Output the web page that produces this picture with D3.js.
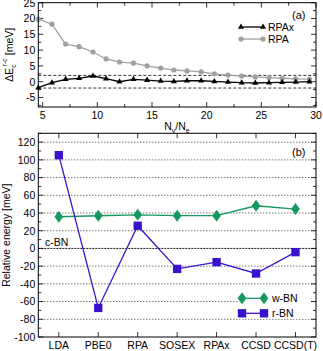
<!DOCTYPE html>
<html><head><meta charset="utf-8">
<script src="https://cdn.jsdelivr.net/npm/d3@7"></script>
<style>
body{margin:0;background:#fff;}
svg{display:block;font-family:"Liberation Sans",Arial,sans-serif;}
</style></head>
<body><svg id="c" width="323" height="351"></svg>
<script>
// Panel (a)
const ratioX = [4.6,5.85,7.1,8.33,9.6,10.8,12.03,13.3,14.55,15.8,17.0,18.2,19.5,20.7,21.95,23.2,24.45,25.7,26.9,28.15,29.4];
const rpaVals = [19.8,18.2,11.9,11.1,9.4,7.2,6.2,5.9,5.0,4.3,3.7,3.4,3.1,2.5,2.1,1.8,1.5,1.3,1.1,0.9,0.8];
const rpaxVals = [-1.9,-0.3,0.75,1.07,1.8,0.95,0.0,0.75,0.5,0.2,0.1,0.3,0.3,0.1,-0.1,-0.3,-0.4,-0.3,-0.2,-0.1,0.0];
const aXTicks = [5,10,15,20,25,30];
const aYTicks = [-5,0,5,10,15,20,25];
const dashLevels = [2,-2];
// Panel (b)
const methods = ["LDA","PBE0","RPA","SOSEX","RPAx","CCSD","CCSD(T)"];
const wBN = [35.8,36.9,38.0,37.0,37.0,48.2,44.5];
const rBN = [105.3,-67.2,25.6,-23.1,-15.5,-28.3,-4.2];
const bYTicks = [-100,-80,-60,-40,-20,0,20,40,60,80,100,120];

const svg = d3.select("#c");
const L = 38.3, R = 316;
const FS = 10.5;
const grey = "#a0a0a0", green = "#13995f", blue = "#3a12cc";

// ---------- Panel (a)
const aT = 2.7, aB = 107;
const xa = d3.scaleLinear().domain([4.6,30]).range([L,R]);
const ya = d3.scaleLinear().domain([-8,25]).range([aB,aT]);
const ga = svg.append("g");
// dashed lines
dashLevels.forEach(v=>{
  ga.append("line").attr("x1",L).attr("x2",R).attr("y1",ya(v)).attr("y2",ya(v))
    .attr("stroke","#000").attr("stroke-width",0.8).attr("stroke-dasharray","3,2");
});
// minor ticks
const aXMinor = d3.range(7.5,30,5);
const aYMinor = d3.range(-7.5,25,2.5).filter(v=>v%5!==0);
function ticksA(){
  const g = ga.append("g").attr("stroke","#000").attr("stroke-width",0.8);
  aXTicks.forEach(v=>{ g.append("line").attr("x1",xa(v)).attr("x2",xa(v)).attr("y1",aB).attr("y2",aB-5);
    g.append("line").attr("x1",xa(v)).attr("x2",xa(v)).attr("y1",aT).attr("y2",aT+5);});
  aXMinor.forEach(v=>{ g.append("line").attr("x1",xa(v)).attr("x2",xa(v)).attr("y1",aB).attr("y2",aB-3);
    g.append("line").attr("x1",xa(v)).attr("x2",xa(v)).attr("y1",aT).attr("y2",aT+3);});
  aYTicks.forEach(v=>{ g.append("line").attr("x1",L).attr("x2",L+5).attr("y1",ya(v)).attr("y2",ya(v));
    g.append("line").attr("x1",R).attr("x2",R-5).attr("y1",ya(v)).attr("y2",ya(v));});
  aYMinor.forEach(v=>{ g.append("line").attr("x1",L).attr("x2",L+3).attr("y1",ya(v)).attr("y2",ya(v));
    g.append("line").attr("x1",R).attr("x2",R-3).attr("y1",ya(v)).attr("y2",ya(v));});
}
ticksA();
const lineA = d3.line().x((d,i)=>xa(ratioX[i])).y(d=>ya(d));
ga.append("path").datum(rpaVals).attr("d",lineA).attr("fill","none").attr("stroke",grey).attr("stroke-width",1.3);
ga.selectAll(".rpa").data(rpaVals).join("circle").attr("cx",(d,i)=>xa(ratioX[i])).attr("cy",d=>ya(d)).attr("r",2.6).attr("fill",grey);
ga.append("path").datum(rpaxVals).attr("d",lineA).attr("fill","none").attr("stroke","#000").attr("stroke-width",1.3);
const tri = d3.symbol().type(d3.symbolTriangle).size(16);
ga.selectAll(".rpax").data(rpaxVals).join("path").attr("d",tri).attr("transform",(d,i)=>`translate(${xa(ratioX[i])},${ya(d)})`).attr("fill","#000");
ga.append("rect").attr("x",L).attr("y",aT).attr("width",R-L).attr("height",aB-aT).attr("fill","none").attr("stroke","#000").attr("stroke-width",1);
// tick labels
ga.selectAll(".xl").data(aXTicks).join("text").attr("x",d=>xa(d)).attr("y",aB+12).attr("text-anchor","middle").attr("font-size",FS).text(d=>d);
ga.selectAll(".yl").data(aYTicks).join("text").attr("x",L-3).attr("y",d=>ya(d)+3.8).attr("text-anchor","end").attr("font-size",FS).text(d=>d);
// legend
ga.append("line").attr("x1",241).attr("x2",263).attr("y1",27).attr("y2",27).attr("stroke","#000").attr("stroke-width",1.3);
[241,263].forEach(x=>ga.append("path").attr("d",tri).attr("transform",`translate(${x},27)`).attr("fill","#000"));
ga.append("text").attr("x",268).attr("y",31).attr("font-size",FS).text("RPAx");
ga.append("line").attr("x1",241).attr("x2",263).attr("y1",39).attr("y2",39).attr("stroke",grey).attr("stroke-width",1.3);
[241,263].forEach(x=>ga.append("circle").attr("cx",x).attr("cy",39).attr("r",2.6).attr("fill",grey));
ga.append("text").attr("x",268).attr("y",43).attr("font-size",FS).text("RPA");
ga.append("text").attr("x",292).attr("y",19).attr("font-size",FS+0.5).text("(a)");
// axis titles
const ytA = ga.append("text").attr("transform",`translate(13,${(aT+aB)/2}) rotate(-90)`).attr("text-anchor","middle").attr("font-size",FS);
ytA.append("tspan").text("ΔE");
ytA.append("tspan").attr("dy",3).attr("font-size",7).text("c");
ytA.append("tspan").attr("dy",-9).attr("dx",-2).attr("font-size",7).text("r-c");
ytA.append("tspan").attr("dy",6).text(" [meV]");
const xtA = ga.append("text").attr("x",177).attr("y",aB+23).attr("text-anchor","middle").attr("font-size",FS);
xtA.append("tspan").text("N");
xtA.append("tspan").attr("dy",3).attr("font-size",7).text("v");
xtA.append("tspan").attr("dy",-3).text("/N");
xtA.append("tspan").attr("dy",3).attr("font-size",7).text("e");

// ---------- Panel (b)
const bT = 133.3, bB = 337;
const xb = d3.scaleLinear().domain([-0.52,6.52]).range([L,R]);
const yb = d3.scaleLinear().domain([-100,130]).range([bB,bT]);
const gb = svg.append("g");
bYTicks.filter(v=>v>-100).forEach(v=>{
  gb.append("line").attr("x1",L).attr("x2",R).attr("y1",yb(v)).attr("y2",yb(v))
    .attr("stroke","#000").attr("stroke-width",v===0?0.9:0.8).attr("stroke-dasharray",v===0?"2,1":"1,2");
});
{
  const g = gb.append("g").attr("stroke","#000").attr("stroke-width",0.8);
  methods.forEach((m,i)=>{ g.append("line").attr("x1",xb(i)).attr("x2",xb(i)).attr("y1",bB).attr("y2",bB-5);
    g.append("line").attr("x1",xb(i)).attr("x2",xb(i)).attr("y1",bT).attr("y2",bT+5);});
  d3.range(-100,131,10).forEach(v=>{ const len = v%20===0?5:3;
    g.append("line").attr("x1",L).attr("x2",L+len).attr("y1",yb(v)).attr("y2",yb(v));
    g.append("line").attr("x1",R).attr("x2",R-len).attr("y1",yb(v)).attr("y2",yb(v));});
}
const lineB = d3.line().x((d,i)=>xb(i)).y(d=>yb(d));
gb.append("path").datum(wBN).attr("d",lineB).attr("fill","none").attr("stroke",green).attr("stroke-width",1.3);
gb.append("path").datum(rBN).attr("d",lineB).attr("fill","none").attr("stroke",blue).attr("stroke-width",1.3);
const diamond = d3.symbol().type(d3.symbolDiamond).size(42);
const square = d3.symbol().type(d3.symbolSquare).size(70);
gb.selectAll(".w").data(wBN).join("path").attr("d",diamond).attr("transform",(d,i)=>`translate(${xb(i)},${yb(d)}) scale(1.25,1)`).attr("fill",green);
gb.selectAll(".r").data(rBN).join("path").attr("d",square).attr("transform",(d,i)=>`translate(${xb(i)},${yb(d)})`).attr("fill",blue);
gb.append("rect").attr("x",L).attr("y",bT).attr("width",R-L).attr("height",bB-bT).attr("fill","none").attr("stroke","#000").attr("stroke-width",1);
gb.selectAll(".xl").data(methods).join("text").attr("x",(d,i)=>xb(i)).attr("y",bB+12).attr("text-anchor","middle").attr("font-size",FS).text(d=>d);
gb.selectAll(".yl").data(bYTicks).join("text").attr("x",L-3).attr("y",d=>yb(d)+3.8).attr("text-anchor","end").attr("font-size",FS).text(d=>d);
// legend
gb.append("rect").attr("x",238).attr("y",293).attr("width",72).attr("height",26).attr("fill","#fff");
gb.append("line").attr("x1",242).attr("x2",264).attr("y1",298.3).attr("y2",298.3).attr("stroke",green).attr("stroke-width",1.3);
[242,264].forEach(x=>gb.append("path").attr("d",diamond).attr("transform",`translate(${x},298.3) scale(1.25,1)`).attr("fill",green));
gb.append("text").attr("x",272).attr("y",302).attr("font-size",FS).text("w-BN");
gb.append("line").attr("x1",242).attr("x2",264).attr("y1",313.3).attr("y2",313.3).attr("stroke",blue).attr("stroke-width",1.3);
[242,264].forEach(x=>gb.append("path").attr("d",square).attr("transform",`translate(${x},313.3)`).attr("fill",blue));
gb.append("text").attr("x",272).attr("y",317).attr("font-size",FS).text("r-BN");
gb.append("text").attr("x",292).attr("y",155.5).attr("font-size",FS+0.5).text("(b)");
gb.append("rect").attr("x",43).attr("y",236).attr("width",30).attr("height",11).attr("fill","#fff");
gb.append("text").attr("x",45).attr("y",245.5).attr("font-size",FS).text("c-BN");
gb.append("text").attr("transform",`translate(10,${(bT+bB)/2}) rotate(-90)`).attr("text-anchor","middle").attr("font-size",FS).text("Relative energy [meV]");
</script></body></html>
